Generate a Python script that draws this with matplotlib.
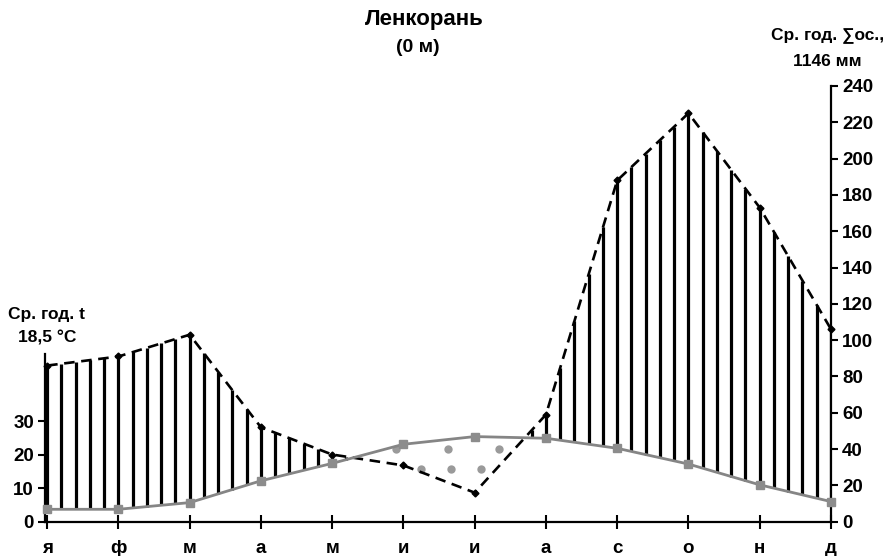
import numpy as np
import matplotlib
matplotlib.use("Agg")
import matplotlib.pyplot as plt

plt.rcParams['font.family'] = ['Liberation Sans', 'DejaVu Sans']
plt.rcParams['font.weight'] = 'bold'

# Monthly climate normals, Lenkoran
months = ['я', 'ф', 'м', 'а', 'м', 'и', 'и', 'а', 'с', 'о', 'н', 'д']
temperature = [3.7, 3.7, 5.7, 12.2, 17.4, 23.1, 25.4, 24.9, 21.9, 17.2, 11.0, 6.0]
precipitation = [86, 91, 103, 52, 37, 31, 16, 59, 188, 225, 173, 106]
precip_ticks = list(range(0, 241, 20))
temp_ticks = [0, 10, 20, 30]

title = 'Ленкорань'
subtitle = '(0 м)'
precip_note = ['Ср. год. ∑ос.,', '1146 мм']
temp_note = ['Ср. год. t', '18,5 °C']

P_MAX = 240
T_MAX = 130          # temperature axis range aligned with the mm axis
K = P_MAX / T_MAX    # °C -> mm on the common scale

fig = plt.figure(figsize=(8.9, 5.56), dpi=100)
rect = [45 / 890, 1 - 521.7 / 556, (831 - 45) / 890, (521.7 - 86) / 556]
axP = fig.add_axes(rect)
axT = axP.twinx()
axT.set_facecolor('none')

x = np.arange(len(months))
P = np.array(precipitation, float)
T = np.array(temperature, float)
Tmm = T * K

# humid period: vertical hatching between temperature and precipitation curves
xs = np.linspace(0, 11, 11 * 5 + 1)
p_i = np.interp(xs, x, P)
t_i = np.interp(xs, x, Tmm)
wet = p_i > t_i
axP.vlines(xs[wet], t_i[wet], p_i[wet], colors='black', linewidth=2.3, zorder=2)

# arid period: dotted fill (two staggered rows)
dots_x, dots_y = [], []
for yy, x0, step in [(40, 4.9, 0.72), (29, 5.25, 0.42)]:
    for xx in np.arange(x0, 11, step):
        pv = np.interp(xx, x, P)
        tv = np.interp(xx, x, Tmm)
        if pv < yy < tv:
            dots_x.append(xx)
            dots_y.append(yy)
axP.plot(dots_x, dots_y, 'o', color='#9a9a9a', markersize=6, markeredgewidth=0, zorder=2)

# precipitation curve
axP.plot(x, P, color='black', linewidth=1.9, dashes=(4, 2.5), marker='D',
         markersize=3.5, zorder=4, clip_on=False)

# temperature curve
axT.plot(x, T, color='#858585', linewidth=2.0, marker='s', markersize=5.5,
         markerfacecolor='#8c8c8c', markeredgecolor='#8c8c8c', zorder=5, clip_on=False)

axP.set_xlim(-0.03, 11)
axP.set_ylim(0, P_MAX)
axT.set_ylim(0, T_MAX)

TICK_FS = 13.5

# precipitation axis on the right
axP.yaxis.tick_right()
axP.set_yticks(precip_ticks)
axP.tick_params(axis='y', direction='out', length=5, width=1.5, labelsize=TICK_FS, pad=3)
for s in ['left', 'top']:
    axP.spines[s].set_visible(False)
axP.spines['right'].set_linewidth(1.6)
axP.spines['bottom'].set_linewidth(1.6)

# month axis
axP.set_xticks(x)
axP.set_xticklabels(months)
axP.tick_params(axis='x', direction='inout', length=10, width=1.5, labelsize=TICK_FS, pad=8)

# temperature axis on the left
axT.yaxis.tick_left()
axT.set_yticks(temp_ticks)
axT.tick_params(axis='y', direction='out', length=5, width=1.5, labelsize=TICK_FS, pad=3)
for s in ['right', 'top', 'bottom']:
    axT.spines[s].set_visible(False)
axT.spines['left'].set_linewidth(1.6)
axT.spines['left'].set_bounds(0, 50)

for lab in axP.get_xticklabels() + axP.get_yticklabels() + axT.get_yticklabels():
    lab.set_fontweight('bold')

fig.text(424 / 890, 1 - 20 / 556, title, ha='center', va='center', fontsize=16, fontweight='bold')
fig.text(418 / 890, 1 - 47 / 556, subtitle, ha='center', va='center', fontsize=14, fontweight='bold')
fig.text(828 / 890, 1 - 35 / 556, precip_note[0], ha='center', va='center', fontsize=12.5, fontweight='bold')
fig.text(827 / 890, 1 - 62 / 556, precip_note[1], ha='center', va='center', fontsize=12.5, fontweight='bold')
fig.text(46 / 890, 1 - 315 / 556, temp_note[0], ha='center', va='center', fontsize=12.5, fontweight='bold')
fig.text(47 / 890, 1 - 338 / 556, temp_note[1], ha='center', va='center', fontsize=12.5, fontweight='bold')

fig.savefig('out.png', dpi=100)
